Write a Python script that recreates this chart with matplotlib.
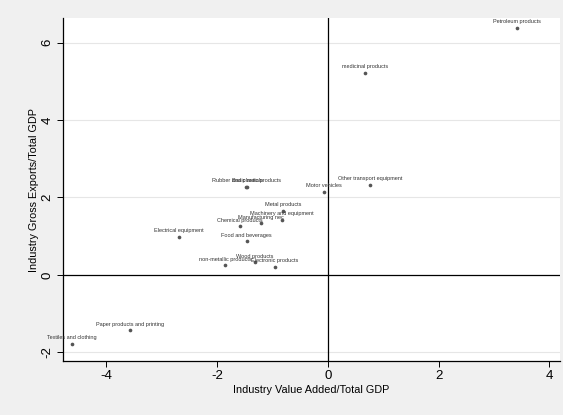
import matplotlib
matplotlib.use('Agg')
from matplotlib import pyplot as plt

industries = ['Petroleum products', 'medicinal products', 'Other transport equipment',
              'Motor vehicles', 'Rubber and plastic products', 'Basic metals',
              'Metal products', 'Machinery and equipment', 'Manufacturing nec',
              'Chemical products', 'Electrical equipment', 'Food and beverages',
              'Wood products', 'non-metallic products', 'Electronic products',
              'Paper products and printing', 'Textiles and clothing']
value_added = [3.41, 0.67, 0.76, -0.07, -1.47, -1.45, -0.81, -0.82, -1.20,
               -1.58, -2.68, -1.46, -1.31, -1.85, -0.95, -3.57, -4.61]
gross_exports = [6.38, 5.22, 2.33, 2.14, 2.27, 2.28, 1.65, 1.43, 1.33,
                 1.26, 0.98, 0.87, 0.33, 0.25, 0.21, -1.43, -1.78]

xticks = [-4, -2, 0, 2, 4]
yticks = [-2, 0, 2, 4, 6]

plt.rcParams['font.family'] = ['Liberation Sans', 'DejaVu Sans']
plt.rcParams['axes.unicode_minus'] = False

fig = plt.figure(figsize=(5.63, 4.15), dpi=100, facecolor='#f0f0f0')
ax = fig.add_axes([62.7 / 563, 1 - 361 / 415, (560 - 62.7) / 563, (361 - 18.5) / 415])
ax.set_facecolor('white')

ax.set_xlim(-4.78, 4.19)
ax.set_ylim(-2.22, 6.62)

for yv in yticks:
  if yv != 0:
    ax.axhline(yv, color='#e6e6e6', lw=0.8, zorder=0)
ax.axhline(0, color='black', lw=0.9, zorder=1)
ax.axvline(0, color='black', lw=0.9, zorder=1)

ax.scatter(value_added, gross_exports, s=7, color='#555555', zorder=3, linewidths=0)
for name, xv, yv in zip(industries, value_added, gross_exports):
  ax.annotate(name, (xv, yv), xytext=(0, 2.6), textcoords='offset points',
              ha='center', va='bottom', fontsize=4.0, color='#333333', zorder=4)

for side in ['top', 'right']:
  ax.spines[side].set_visible(False)
for side in ['left', 'bottom']:
  ax.spines[side].set_linewidth(0.9)

ax.set_xticks(xticks)
ax.set_yticks(yticks)
ax.tick_params(axis='both', direction='out', length=4.5, width=0.7, labelsize=9.5, pad=2)
plt.setp(ax.get_yticklabels(), rotation=90, va='center')

ax.set_xlabel('Industry Value Added/Total GDP', fontsize=7.8, labelpad=2)
ax.set_ylabel('Industry Gross Exports/Total GDP', fontsize=7.8, labelpad=2)

fig.savefig('out.png', dpi=100, facecolor=fig.get_facecolor())
